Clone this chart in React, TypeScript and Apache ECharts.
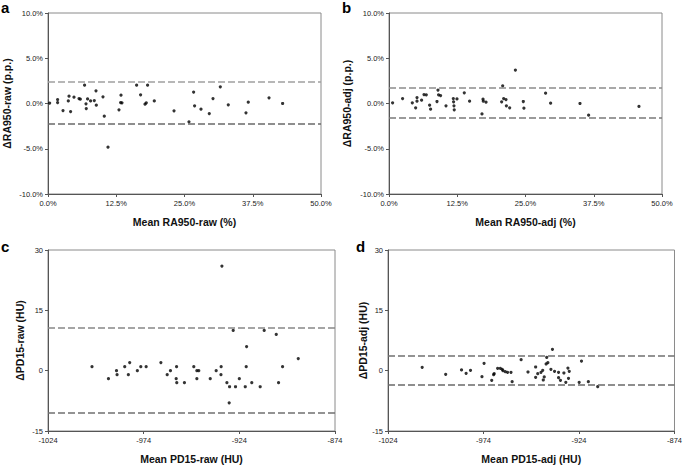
import React, { useEffect, useRef } from "react";
import * as echarts from "echarts";

// ---------- data ----------
const panelLetters = ["a", "b", "c", "d"];

const xTitles = ["Mean RA950-raw (%)", "Mean RA950-adj (%)", "Mean PD15-raw (HU)", "Mean PD15-adj (HU)"];
const yTitles = ["\u0394RA950-raw (p.p.)", "\u0394RA950-adj (p.p.)", "\u0394PD15-raw (HU)", "\u0394PD15-adj (HU)"];

// [mean, difference]
const aPoints: [number, number][] = [
  [0.3, 0.05], [1.76, 0.44], [1.76, 0.1], [2.75, -0.78], [3.72, 0.29], [3.85, 0.81], [4.14, -0.89],
  [4.76, 0.7], [5.68, 0.55], [5.92, 0.48], [6.7, 2.03], [6.96, -0.04], [7.01, -0.56], [7.25, 0.51],
  [7.8, 0.29], [8.48, 0.33], [8.79, 1.4], [8.85, -0.18], [10.07, 0.74], [10.31, -1.4], [10.99, -4.83],
  [13.0, -0.7], [13.37, 0.92], [13.3, 0.1], [13.55, 0.07], [16.23, 2.03], [16.96, 0.96], [17.77, -0.07],
  [18.0, 0.07], [18.24, 2.03], [19.47, 0.29], [23.08, -0.81], [25.82, -2.03], [26.67, 1.26], [26.85, -0.26],
  [28.02, -0.63], [29.54, -1.11], [30.22, 0.55], [31.56, 1.84], [33.02, -0.15], [36.26, -1.03], [36.68, 0.15],
  [40.48, 0.63], [42.97, 0.0],
];
const aLimits = [2.4, -2.25];

const bPoints: [number, number][] = [
  [0.66, 0.07], [2.49, 0.55], [4.27, 0.07], [4.88, -0.48], [5.13, 0.66], [5.13, 0.26], [5.97, 0.37],
  [6.41, 0.99], [6.83, 0.96], [7.44, -0.18], [7.62, -0.63], [8.79, 0.22], [8.97, 1.48], [9.08, 0.96],
  [9.45, 0.88], [10.44, -0.26], [11.78, 0.55], [11.83, 0.18], [11.9, -0.26], [11.95, -0.7], [12.45, 0.51],
  [13.79, 1.18], [14.76, 0.26], [17.22, 0.48], [17.27, 0.26], [17.77, 0.15], [17.03, -1.15], [20.63, 0.18],
  [20.82, 1.95], [21.0, 0.55], [21.43, 0.44], [21.5, -0.26], [22.1, -0.48], [23.15, 3.69], [24.6, 0.22],
  [24.71, -0.52], [28.68, 1.14], [29.6, 0.04], [34.98, 0.0], [36.56, -1.29], [45.78, -0.33],
];
const bLimits = [1.7, -1.6];

const cPoints: [number, number][] = [
  [-1001, 1], [-992.4, -2], [-988.2, 0], [-987.9, -1], [-983.9, 1], [-981.3, 2], [-982, -1], [-977.3, 0],
  [-975.5, 1], [-972.7, 1], [-965, 2], [-961.7, -1], [-960, 0], [-956.8, 1], [-957, -2], [-956.7, -3],
  [-952.7, -3], [-947.8, 1], [-946.2, 0], [-945.2, 0], [-946.2, -2], [-939.2, -2], [-936.1, 0], [-933.5, 1],
  [-933.6, -1], [-933.1, 26], [-930.5, -3], [-929.1, -4], [-929.3, -8], [-927.2, 10], [-926, -4], [-924, -2],
  [-920.9, -4], [-920.4, 1], [-920.2, 6], [-917.5, -3], [-913.1, -4], [-911, 10], [-904.7, 9], [-903.5, -3],
  [-901.4, 1], [-893.2, 3],
];
const cLimits = [10.6, -10.5];

const dPoints: [number, number][] = [
  [-1006.1, 0.83], [-993.8, -0.91], [-985.5, 0.17], [-983.1, -0.66], [-980.8, 0.08], [-974.8, -1.49],
  [-973.7, 1.82], [-969.7, -2.4], [-968.4, -0.75], [-968.7, -1.0], [-966.6, 0.58], [-965.2, 0.58],
  [-964.2, 0.33], [-963.8, 0.0], [-962.6, -0.25], [-961.4, -0.41], [-959.6, -0.41], [-959, -2.73],
  [-954.3, 2.73], [-950.7, -0.33], [-946.7, 0.91], [-946.7, -1.66], [-945.6, -0.75], [-943.9, -0.41],
  [-943, 0.08], [-942.7, -2.32], [-942.2, -1.57], [-941.2, 1.66], [-940.9, 3.3], [-940.3, 1.99],
  [-938.7, 0.33], [-937.9, 5.3], [-936.8, -0.17], [-934.7, -0.41], [-934.7, -1.74], [-933.7, -2.4],
  [-931.9, -0.58], [-930.9, -2.9], [-929.8, 0.66], [-929.5, -1.9], [-929.1, -0.17], [-923.9, -2.9],
  [-922.7, 2.4], [-919.1, -2.73], [-914.2, -3.98],
];
const dLimits = [3.6, -3.6];

const pctX = { min: 0, max: 50, interval: 12.5 };
const pctY = { min: -10, max: 10, interval: 5 };
const huX = { min: -1024, max: -874, interval: 50 };
const huY = { min: -15, max: 30, interval: 15 };

// ---------- component ----------
const FONT = "'Liberation Sans', Arial, sans-serif";

export default function App() {
  const ref = useRef<HTMLDivElement>(null);

  useEffect(() => {
    if (!ref.current) return;
    const chart = echarts.init(ref.current, undefined, { renderer: "svg" });

    const grids = [
      { left: 48, top: 13, width: 273, height: 181 },
      { left: 389, top: 13, width: 273, height: 181 },
      { left: 48, top: 250, width: 287, height: 181 },
      { left: 388, top: 250, width: 289, height: 181 },
    ];
    const pointsList = [aPoints, bPoints, cPoints, dPoints];
    const limitsList = [aLimits, bLimits, cLimits, dLimits];
    const xRanges = [pctX, pctX, huX, huX];
    const yRanges = [pctY, pctY, huY, huY];
    const yGaps = [36, 37, 23, 20];
    const upperColors = ["#a0a0a0", "#8c8c8c", "#888888", "#707070"];
    const lowerColors = ["#6a6a6a", "#7a7a7a", "#707070", "#6a6a6a"];

    const pctFmt = (v: number) => v.toFixed(1) + "%";
    const intFmt = (v: number) => String(Math.round(v));

    const axisCommon = {
      type: "value" as const,
      splitLine: { show: false },
      axisLine: { show: true, onZero: false, lineStyle: { color: "#555", width: 1 } },
      axisTick: { show: true, inside: false, length: 3, lineStyle: { color: "#555" } },
      nameLocation: "middle" as const,
      nameTextStyle: { fontFamily: FONT, fontWeight: "bold" as const, fontSize: 10.5, color: "#111" },
    };

    const option: any = {
      animation: false,
      textStyle: { fontFamily: FONT },
      grid: grids.map((g) => ({ ...g, show: true, borderColor: "#8a8a8a", borderWidth: 1, backgroundColor: "transparent" })),
      xAxis: grids.map((_, i) => ({
        ...axisCommon,
        gridIndex: i,
        min: xRanges[i].min,
        max: xRanges[i].max,
        interval: xRanges[i].interval,
        name: xTitles[i],
        nameGap: 22,
        axisLabel: {
          formatter: i < 2 ? pctFmt : intFmt,
          fontSize: 7.5,
          color: "#222",
          margin: 5,
          fontFamily: FONT,
        },
      })),
      yAxis: grids.map((_, i) => ({
        ...axisCommon,
        gridIndex: i,
        min: yRanges[i].min,
        max: yRanges[i].max,
        interval: yRanges[i].interval,
        name: yTitles[i],
        nameGap: yGaps[i],
        axisLabel: {
          formatter: i < 2 ? pctFmt : intFmt,
          fontSize: 7.5,
          color: "#222",
          margin: 5,
          fontFamily: FONT,
        },
      })),
      series: pointsList.map((pts, i) => ({
        type: "scatter",
        xAxisIndex: i,
        yAxisIndex: i,
        data: pts,
        symbol: "circle",
        symbolSize: 3.2,
        itemStyle: { color: "#000" },
        silent: true,
        markLine: {
          silent: true,
          symbol: "none",
          label: { show: false },
          lineStyle: { type: [7, 3], width: 1.5 },
          data: [
            { yAxis: limitsList[i][0], lineStyle: { color: upperColors[i], type: [7, 3], width: 1.5 } },
            { yAxis: limitsList[i][1], lineStyle: { color: lowerColors[i], type: [7, 3], width: 1.5 } },
          ],
        },
      })),
      graphic: [
        { pos: [1, 0] },
        { pos: [342, 0] },
        { pos: [1, 239] },
        { pos: [356, 239] },
      ].map((p, i) => ({
        type: "text",
        x: p.pos[0],
        y: p.pos[1],
        style: {
          text: panelLetters[i],
          fontFamily: FONT,
          fontWeight: "bold",
          fontSize: 15,
          fill: "#000",
          verticalAlign: "top",
        },
      })),
    };

    chart.setOption(option);
    return () => chart.dispose();
  }, []);

  return (
    <div
      ref={ref}
      style={{ position: "fixed", left: 0, top: 0, width: 685, height: 465, background: "#fff" }}
    />
  );
}
